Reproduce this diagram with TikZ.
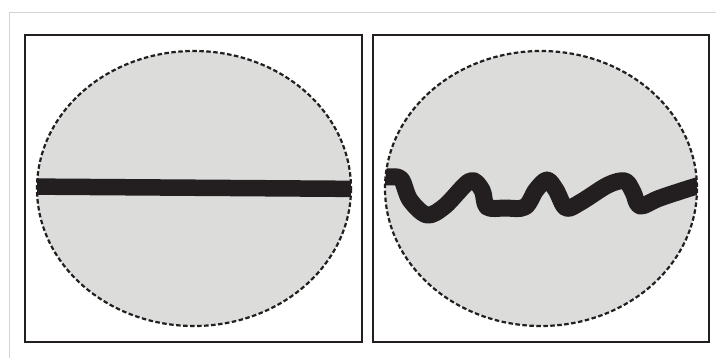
\documentclass[tikz,border=0pt]{standalone}
\usepackage{tikz}
\definecolor{ink}{HTML}{231F20}
\definecolor{fillgray}{HTML}{DCDCDB}
\definecolor{frame}{HTML}{D4D4D4}
\tikzset{
  panel/.style={draw=ink, line width=2.4pt},
  blob/.style={fill=fillgray},
  outline/.style={draw=ink, line width=2.2pt, dash pattern=on 4.5pt off 2.5pt},
  rope/.style={draw=ink, line width=16.5pt},
  wavy/.style={draw=ink, line width=17pt, line cap=round, line join=round}
}
\begin{document}
\begin{tikzpicture}[x=1pt,y=-1pt]
\useasboundingbox (0,0) rectangle (716,358);
\fill[white] (0,0) rectangle (716,358);
% faint outer frame
\draw[frame, line width=1pt] (9,358) -- (9,13) -- (716,13);
% panels
\draw[panel] (25,35) rectangle (362,342);
\draw[panel] (373,35) rectangle (709,342);
% left blob
\fill[blob] (194,188.5) ellipse [x radius=157, y radius=137.5];
\begin{scope}
  \clip (194,188.5) ellipse [x radius=157, y radius=137.5];
  \draw[rope] (20,186.5) -- (370,189);
\end{scope}
\draw[outline] (194,188.5) ellipse [x radius=157, y radius=137.5];
% right blob
\fill[blob] (541,188.5) ellipse [x radius=156, y radius=137.5];
\begin{scope}
  \clip (541,188.5) ellipse [x radius=156, y radius=137.5];
  \draw[wavy] plot[smooth, tension=0.55] coordinates {
    (370,178) (388,177) (401,179) (410,200) (427,215) (445,206)
    (470,181) (482,190) (487,207) (505,208) (525,207)
    (536,190) (547,180) (556,190) (566,208) (581,202)
    (608,185) (625,181) (633,192) (640,206) (660,198) (697,186) (715,182)};
\end{scope}
\draw[outline] (541,188.5) ellipse [x radius=156, y radius=137.5];
\end{tikzpicture}
\end{document}
